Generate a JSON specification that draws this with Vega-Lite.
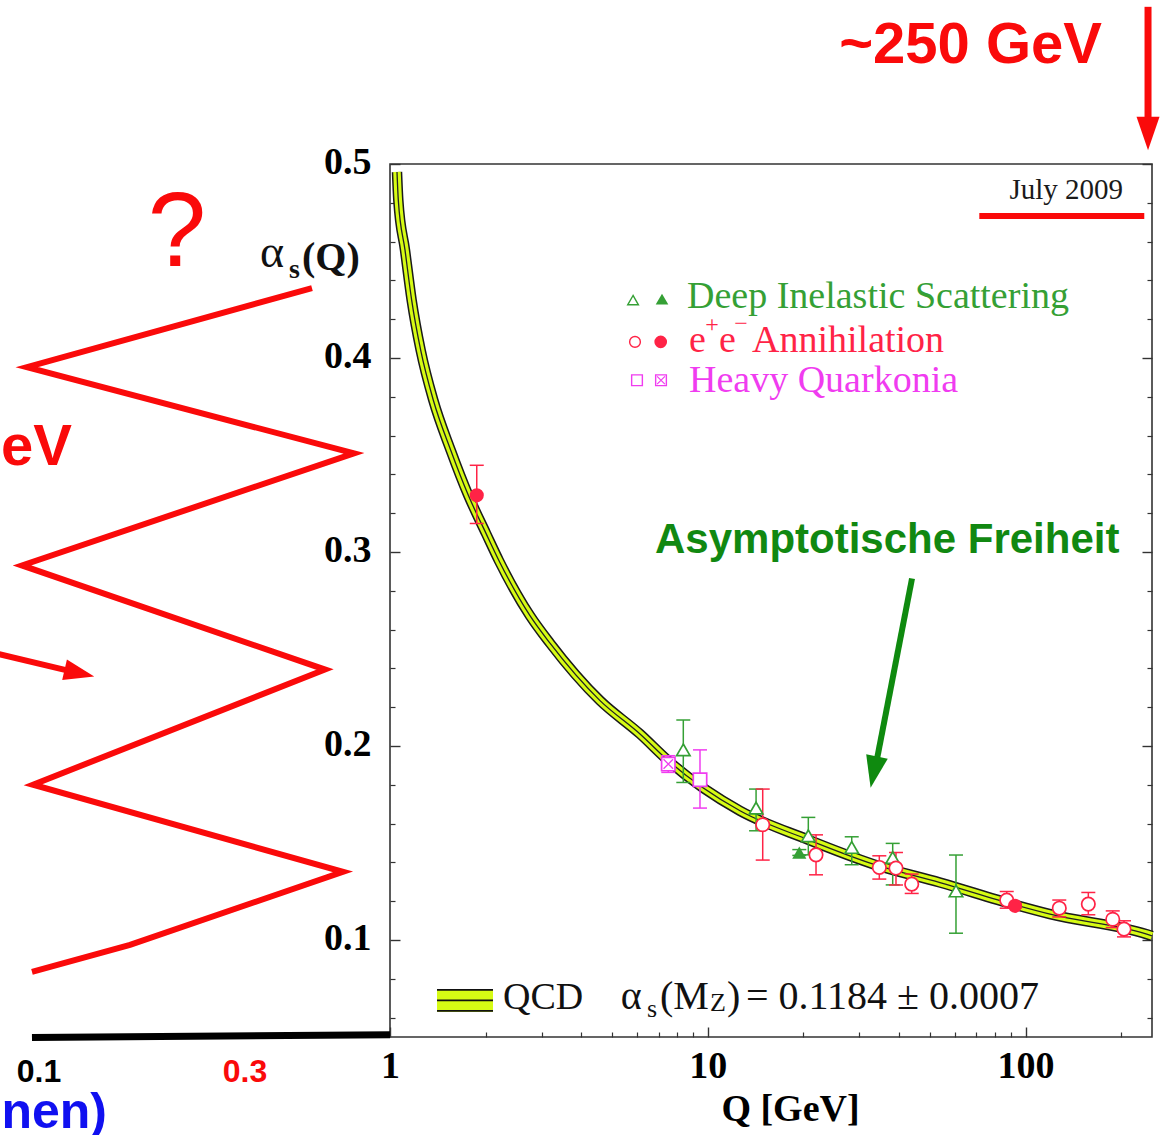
{
  "$schema": "https://vega.github.io/schema/vega-lite/v6.json",
  "width": 762,
  "height": 873,
  "autosize": {"type": "none"},
  "padding": {"left": 390, "top": 164, "right": 11, "bottom": 98},
  "background": "white",
  "config": {
    "view": {"stroke": "#333", "strokeWidth": 1.6},
    "axis": {"grid": false, "domain": false, "labelColor": "#000", "tickColor": "#333", "tickWidth": 1.4, "labelFlush": false, "labelOverlap": false}
  },
  "datasets": {
    "curve": [
      {"q": 1.052, "a": 0.4959}, {"q": 1.062, "a": 0.4814}, {"q": 1.115, "a": 0.4556}, {"q": 1.170, "a": 0.4298},
      {"q": 1.249, "a": 0.4040}, {"q": 1.369, "a": 0.3782}, {"q": 1.553, "a": 0.3524}, {"q": 1.764, "a": 0.3292},
      {"q": 2.005, "a": 0.3096}, {"q": 2.203, "a": 0.2955}, {"q": 2.757, "a": 0.2672}, {"q": 3.188, "a": 0.2530},
      {"q": 4.580, "a": 0.2234}, {"q": 6.120, "a": 0.2062}, {"q": 7.512, "a": 0.1924}, {"q": 12.63, "a": 0.1666},
      {"q": 20.48, "a": 0.1520}, {"q": 33.19, "a": 0.1391}, {"q": 53.80, "a": 0.1296}, {"q": 92.65, "a": 0.1181},
      {"q": 119.4, "a": 0.1133}, {"q": 240.6, "a": 0.1030}, {"q": 250, "a": 0.1021}
    ],
    "pts": [
      {"q": 1.875, "a": 0.3292, "lo": 0.3147, "hi": 0.3447, "set": "ee", "style": "filled"},
      {"q": 7.512, "a": 0.1907, "lo": 0.1864, "hi": 0.1950, "set": "HQ", "style": "crossed"},
      {"q": 8.375, "a": 0.1980, "lo": 0.1812, "hi": 0.2134, "set": "DIS", "style": "open"},
      {"q": 9.452, "a": 0.1826, "lo": 0.1680, "hi": 0.1980, "set": "HQ", "style": "open"},
      {"q": 14.19, "a": 0.1680, "lo": 0.1563, "hi": 0.1778, "set": "DIS", "style": "open"},
      {"q": 14.89, "a": 0.1594, "lo": 0.1412, "hi": 0.1778, "set": "ee", "style": "open"},
      {"q": 19.41, "a": 0.1451, "lo": 0.1436, "hi": 0.1466, "set": "DIS", "style": "filled"},
      {"q": 20.72, "a": 0.1537, "lo": 0.1439, "hi": 0.1632, "set": "DIS", "style": "open"},
      {"q": 21.91, "a": 0.1439, "lo": 0.1336, "hi": 0.1542, "set": "ee", "style": "open"},
      {"q": 28.38, "a": 0.1477, "lo": 0.1388, "hi": 0.1532, "set": "DIS", "style": "open"},
      {"q": 34.66, "a": 0.1374, "lo": 0.1314, "hi": 0.1434, "set": "ee", "style": "open"},
      {"q": 38.19, "a": 0.1425, "lo": 0.1284, "hi": 0.1498, "set": "DIS", "style": "open"},
      {"q": 39.11, "a": 0.1371, "lo": 0.1284, "hi": 0.1451, "set": "ee", "style": "open"},
      {"q": 43.83, "a": 0.1288, "lo": 0.1240, "hi": 0.1340, "set": "ee", "style": "open"},
      {"q": 60.41, "a": 0.1253, "lo": 0.1035, "hi": 0.1438, "set": "DIS", "style": "open"},
      {"q": 87.25, "a": 0.1206, "lo": 0.1164, "hi": 0.1250, "set": "ee", "style": "open"},
      {"q": 92.65, "a": 0.1176, "lo": 0.1166, "hi": 0.1186, "set": "ee", "style": "filled"},
      {"q": 127.7, "a": 0.1164, "lo": 0.1119, "hi": 0.1206, "set": "ee", "style": "open"},
      {"q": 157.6, "a": 0.1185, "lo": 0.1130, "hi": 0.1245, "set": "ee", "style": "open"},
      {"q": 188.1, "a": 0.1107, "lo": 0.1064, "hi": 0.1150, "set": "ee", "style": "open"},
      {"q": 204.1, "a": 0.1056, "lo": 0.1016, "hi": 0.1099, "set": "ee", "style": "open"}
    ],
    "legsym": [
      {"q": 5.8195, "a": 0.42982, "set": "DIS", "style": "open"},
      {"q": 7.1777, "a": 0.43034, "set": "DIS", "style": "filled"},
      {"q": 5.902, "a": 0.4083, "set": "ee", "style": "open"},
      {"q": 7.1103, "a": 0.4083, "set": "ee", "style": "filled"},
      {"q": 5.9883, "a": 0.38853, "set": "HQ", "style": "open"},
      {"q": 7.1258, "a": 0.38853, "set": "HQ", "style": "crossed"}
    ],
    "legtxt": [
      {"q": 8.6021, "a": 0.42569, "set": "DIS", "label": "Deep Inelastic Scattering"},
      {"q": 8.7276, "a": 0.40298, "set": "ee", "label": "e"},
      {"q": 10.848, "a": 0.40298, "set": "ee", "label": "e"},
      {"q": 13.78, "a": 0.40298, "set": "ee", "label": "Annihilation"},
      {"q": 8.7276, "a": 0.38234, "set": "HQ", "label": "Heavy Quarkonia"}
    ],
    "zig": [
      {"i": 1, "q": 0.5682, "a": 0.43601},
      {"i": 2, "q": 0.07206, "a": 0.39524},
      {"i": 3, "q": 0.7705, "a": 0.35086},
      {"i": 4, "q": 0.06948, "a": 0.29307},
      {"i": 5, "q": 0.6244, "a": 0.2394},
      {"i": 6, "q": 0.07527, "a": 0.18005},
      {"i": 7, "q": 0.7113, "a": 0.13515},
      {"i": 8, "q": 0.1520, "a": 0.09748},
      {"i": 9, "q": 0.0747, "a": 0.08354}
    ]
  },
  "encoding": {
    "x": {"field": "q", "type": "quantitative", "scale": {"type": "log", "domain": [1, 250], "nice": false}, "axis": null},
    "y": {"field": "a", "type": "quantitative", "scale": {"domain": [0.05, 0.5], "nice": false, "zero": false}, "axis": null}
  },
  "layer": [
    {
      "data": {"name": "curve"},
      "mark": {"type": "line", "color": "#1a1a1a", "strokeWidth": 10.5, "interpolate": "monotone"},
      "encoding": {
        "x": {"field": "q", "type": "quantitative", "scale": {"type": "log", "domain": [1, 250], "nice": false},
          "axis": {"orient": "bottom", "values": [1, 10, 100], "format": "d", "ticks": false, "tickSize": 0, "domain": false, "grid": false,
            "labelFont": "Liberation Serif", "labelFontWeight": "bold", "labelFontSize": 38, "labelColor": "#000", "labelPadding": 40,
            "labelBaseline": "alphabetic", "labelAlign": "center", "labelFlush": false, "labelOverlap": false,
            "title": "Q [GeV]", "titleFont": "Liberation Serif", "titleFontWeight": "bold", "titleFontSize": 38, "titleColor": "#000",
            "titleX": 400, "titleY": 83, "titleBaseline": "alphabetic", "titleAlign": "center"}},
        "y": {"field": "a", "type": "quantitative", "scale": {"domain": [0.05, 0.5], "nice": false, "zero": false},
          "axis": {"orient": "left", "values": [0.1, 0.2, 0.3, 0.4, 0.5], "format": ".1f", "ticks": false, "tickSize": 0, "domain": false, "grid": false,
            "labelFont": "Liberation Serif", "labelFontWeight": "bold", "labelFontSize": 38, "labelColor": "#000", "labelPadding": 19,
            "labelBaseline": "alphabetic", "labelOffset": 9, "labelAlign": "right", "labelFlush": false, "labelOverlap": false, "title": null}}
      }
    },
    {
      "data": {"name": "curve"},
      "mark": {"type": "line", "color": "#d6fb14", "strokeWidth": 7.5, "interpolate": "monotone"},
      "encoding": {
        "x": {"field": "q", "type": "quantitative", "scale": {"type": "log", "domain": [1, 250], "nice": false},
          "axis": {"orient": "bottom", "values": [1, 10, 100], "labels": false, "domain": false, "grid": false, "tickSize": -10, "tickWidth": 1.4, "tickColor": "#333", "title": null}},
        "y": {"field": "a", "type": "quantitative", "scale": {"domain": [0.05, 0.5], "nice": false, "zero": false},
          "axis": {"orient": "left", "values": [0.1, 0.2, 0.3, 0.4, 0.5], "labels": false, "domain": false, "grid": false, "tickSize": -10, "tickWidth": 1.4, "tickColor": "#333", "title": null}}
      }
    },
    {
      "data": {"name": "curve"},
      "mark": {"type": "line", "color": "#222", "strokeWidth": 1.3, "interpolate": "monotone"},
      "encoding": {
        "x": {"field": "q", "type": "quantitative", "scale": {"type": "log", "domain": [1, 250], "nice": false},
          "axis": {"orient": "bottom", "values": [2, 3, 4, 5, 6, 7, 8, 9, 20, 30, 40, 50, 60, 70, 80, 90, 200], "labels": false, "domain": false, "grid": false, "tickSize": -5, "tickWidth": 1.2, "tickColor": "#333", "title": null}},
        "y": {"field": "a", "type": "quantitative", "scale": {"domain": [0.05, 0.5], "nice": false, "zero": false},
          "axis": {"orient": "left", "values": [0.06, 0.08, 0.12, 0.14, 0.16, 0.18, 0.22, 0.24, 0.26, 0.28, 0.32, 0.34, 0.36, 0.38, 0.42, 0.44, 0.46, 0.48], "labels": false, "domain": false, "grid": false, "tickSize": -5, "tickWidth": 1.2, "tickColor": "#333", "title": null}}
      }
    },
    {
      "data": {"name": "pts"},
      "mark": {"type": "rule", "strokeWidth": 1.5},
      "encoding": {
        "y": {"field": "lo", "type": "quantitative", "scale": {"domain": [0.05, 0.5], "nice": false, "zero": false},
          "axis": {"orient": "right", "values": [0.1, 0.2, 0.3, 0.4, 0.5], "labels": false, "domain": false, "grid": false, "tickSize": -10, "tickWidth": 1.4, "tickColor": "#333", "title": null}},
        "y2": {"field": "hi"},
        "color": {"field": "set", "type": "nominal", "scale": {"domain": ["DIS", "ee", "HQ"], "range": ["#35a035", "#ff2346", "#f03cf0"]}, "legend": null}
      }
    },
    {
      "data": {"name": "pts"},
      "mark": {"type": "tick", "orient": "horizontal", "size": 14, "thickness": 1.5, "opacity": 1},
      "encoding": {
        "y": {"field": "lo", "type": "quantitative", "scale": {"domain": [0.05, 0.5], "nice": false, "zero": false},
          "axis": {"orient": "right", "values": [0.06, 0.08, 0.12, 0.14, 0.16, 0.18, 0.22, 0.24, 0.26, 0.28, 0.32, 0.34, 0.36, 0.38, 0.42, 0.44, 0.46, 0.48], "labels": false, "domain": false, "grid": false, "tickSize": -5, "tickWidth": 1.2, "tickColor": "#333", "title": null}},
        "color": {"field": "set", "type": "nominal", "legend": null}
      }
    },
    {
      "data": {"name": "pts"},
      "mark": {"type": "tick", "orient": "horizontal", "size": 14, "thickness": 1.5, "opacity": 1},
      "encoding": {
        "y": {"field": "hi", "type": "quantitative", "scale": {"domain": [0.05, 0.5], "nice": false, "zero": false}, "axis": null},
        "color": {"field": "set", "type": "nominal", "legend": null}
      }
    },
    {
      "data": {"name": "pts"},
      "transform": [{"filter": "datum.style != 'filled'"}],
      "mark": {"type": "point", "filled": false, "fill": "white", "strokeWidth": 1.7, "size": 180, "opacity": 1},
      "encoding": {
        "color": {"field": "set", "type": "nominal", "legend": null},
        "shape": {"field": "set", "type": "nominal", "scale": {"domain": ["DIS", "ee", "HQ"], "range": ["triangle-up", "circle", "square"]}, "legend": null}
      }
    },
    {
      "data": {"name": "pts"},
      "transform": [{"filter": "datum.style == 'filled'"}],
      "mark": {"type": "point", "filled": true, "size": 200, "opacity": 1},
      "encoding": {
        "color": {"field": "set", "type": "nominal", "legend": null},
        "shape": {"field": "set", "type": "nominal", "legend": null}
      }
    },
    {
      "data": {"name": "pts"},
      "transform": [{"filter": "datum.style == 'crossed'"}],
      "mark": {"type": "point", "filled": false, "shape": "M-1,-1L1,1M-1,1L1,-1", "size": 90, "strokeWidth": 1.3, "opacity": 1},
      "encoding": {"color": {"field": "set", "type": "nominal", "legend": null}}
    },
    {
      "data": {"name": "legsym"},
      "transform": [{"filter": "datum.style != 'filled'"}],
      "mark": {"type": "point", "filled": false, "fill": "white", "strokeWidth": 1.4, "size": 115, "opacity": 1},
      "encoding": {
        "color": {"field": "set", "type": "nominal", "legend": null},
        "shape": {"field": "set", "type": "nominal", "legend": null}
      }
    },
    {
      "data": {"name": "legsym"},
      "transform": [{"filter": "datum.style == 'filled'"}],
      "mark": {"type": "point", "filled": true, "size": 160, "opacity": 1},
      "encoding": {
        "color": {"field": "set", "type": "nominal", "legend": null},
        "shape": {"field": "set", "type": "nominal", "legend": null}
      }
    },
    {
      "data": {"name": "legsym"},
      "transform": [{"filter": "datum.style == 'crossed'"}],
      "mark": {"type": "point", "filled": false, "shape": "M-1,-1L1,1M-1,1L1,-1", "size": 60, "strokeWidth": 1.2, "opacity": 1},
      "encoding": {"color": {"field": "set", "type": "nominal", "legend": null}}
    },
    {
      "data": {"name": "legtxt"},
      "mark": {"type": "text", "font": "Liberation Serif", "fontSize": 38, "align": "left", "baseline": "alphabetic"},
      "encoding": {
        "text": {"field": "label"},
        "color": {"field": "set", "type": "nominal", "legend": null}
      }
    },
    {
      "data": {"values": [
        {"q": 10.31, "a": 0.4133, "set": "ee", "label": "+"},
        {"q": 12.727, "a": 0.41382, "set": "ee", "label": "−"}
      ]},
      "mark": {"type": "text", "font": "Liberation Serif", "fontSize": 24, "align": "center", "baseline": "alphabetic"},
      "encoding": {
        "text": {"field": "label"},
        "color": {"field": "set", "type": "nominal", "legend": null}
      }
    },
    {
      "data": {"values": [{"q": 1.4059, "q2": 2.1093, "a": 0.07478, "a2": 0.06291}]},
      "mark": {"type": "rect", "color": "#d6fb14"},
      "encoding": {"x2": {"field": "q2"}, "y2": {"field": "a2"}}
    },
    {
      "data": {"values": [
        {"q": 1.4059, "q2": 2.1093, "a": 0.07426},
        {"q": 1.4059, "q2": 2.1093, "a": 0.06884},
        {"q": 1.4059, "q2": 2.1093, "a": 0.06342}
      ]},
      "mark": {"type": "rule", "color": "#111", "strokeWidth": 1.8},
      "encoding": {"x2": {"field": "q2"}}
    },
    {
      "data": {"values": [{"q": 2.268, "a": 0.06445, "label": "QCD"}]},
      "mark": {"type": "text", "font": "Liberation Serif", "fontSize": 38, "align": "left", "baseline": "alphabetic", "color": "#111"},
      "encoding": {"text": {"field": "label"}}
    },
    {
      "data": {"values": [
        {"q": 5.32, "a": 0.06445, "label": "α"},
        {"q": 7.0737, "a": 0.06445, "label": "(M"},
        {"q": 11.494, "a": 0.06445, "label": ")"},
        {"q": 13.194, "a": 0.06445, "label": "= 0.1184 ± 0.0007"}
      ]},
      "mark": {"type": "text", "font": "Liberation Serif", "fontSize": 40, "align": "left", "baseline": "alphabetic", "color": "#111"},
      "encoding": {"text": {"field": "label"}}
    },
    {
      "data": {"values": [
        {"q": 6.4394, "a": 0.06033, "label": "s"},
        {"q": 10.163, "a": 0.06342, "label": "Z"}
      ]},
      "mark": {"type": "text", "font": "Liberation Serif", "fontSize": 26, "align": "left", "baseline": "alphabetic", "color": "#111"},
      "encoding": {"text": {"field": "label"}}
    },
    {
      "data": {"values": [{"q": 0.38985, "a": 0.44685, "label": "α"}]},
      "mark": {"type": "text", "font": "Liberation Serif", "fontSize": 46, "align": "left", "baseline": "alphabetic", "color": "#111"},
      "encoding": {"text": {"field": "label"}}
    },
    {
      "data": {"values": [{"q": 0.48116, "a": 0.44117, "label": "s"}]},
      "mark": {"type": "text", "font": "Liberation Serif", "fontSize": 28, "fontWeight": "bold", "align": "left", "baseline": "alphabetic", "color": "#111"},
      "encoding": {"text": {"field": "label"}}
    },
    {
      "data": {"values": [{"q": 0.52851, "a": 0.4453, "label": "(Q)"}]},
      "mark": {"type": "text", "font": "Liberation Serif", "fontSize": 40, "fontWeight": "bold", "align": "left", "baseline": "alphabetic", "color": "#111"},
      "encoding": {"text": {"field": "label"}}
    },
    {
      "data": {"values": [{"q": 202.6, "a": 0.4819, "label": "July 2009"}]},
      "mark": {"type": "text", "font": "Liberation Serif", "fontSize": 29, "align": "right", "baseline": "alphabetic", "color": "#1a1a1a"},
      "encoding": {"text": {"field": "label"}}
    },
    {
      "data": {"values": [{"q": 71.53, "q2": 236.4, "a": 0.47317}]},
      "mark": {"type": "rule", "color": "#fa0a0a", "strokeWidth": 6},
      "encoding": {"x2": {"field": "q2"}}
    },
    {
      "data": {"values": [{"q": 174.0, "a": 0.55212, "label": "~250 GeV"}]},
      "mark": {"type": "text", "font": "Liberation Sans", "fontSize": 58, "fontWeight": "bold", "align": "right", "baseline": "alphabetic", "color": "#fa0a0a"},
      "encoding": {"text": {"field": "label"}}
    },
    {
      "data": {"values": [{"q": 242.9, "a": 0.58102, "a2": 0.52271}]},
      "mark": {"type": "rule", "color": "#fa0a0a", "strokeWidth": 7},
      "encoding": {"y2": {"field": "a2"}}
    },
    {
      "data": {"values": [{"q": 242.9, "a": 0.51574}]},
      "mark": {"type": "point", "shape": "M-1,-1.45L1,-1.45L0,1.45Z", "filled": true, "size": 529, "color": "#fa0a0a", "opacity": 1},
      "encoding": {}
    },
    {
      "data": {"values": [{"q": 43.93, "a": 0.28636, "q2": 33.96, "a2": 0.19192}]},
      "mark": {"type": "rule", "color": "#0f8a0f", "strokeWidth": 6},
      "encoding": {"x2": {"field": "q2"}, "y2": {"field": "a2"}}
    },
    {
      "data": {"values": [{"q": 33.30, "a": 0.1865}]},
      "mark": {"type": "point", "shape": "M-1,-1.45L1,-1.45L0,1.45Z", "filled": true, "size": 484, "angle": 11.5, "color": "#0f8a0f", "opacity": 1},
      "encoding": {}
    },
    {
      "data": {"values": [{"q": 6.823, "a": 0.29926, "label": "Asymptotische Freiheit"}]},
      "mark": {"type": "text", "font": "Liberation Sans", "fontSize": 42, "fontWeight": "bold", "align": "left", "baseline": "alphabetic", "color": "#118811"},
      "encoding": {"text": {"field": "label"}}
    },
    {
      "data": {"name": "zig"},
      "mark": {"type": "line", "color": "#fa0a0a", "strokeWidth": 6},
      "encoding": {"order": {"field": "i", "type": "quantitative"}}
    },
    {
      "data": {"values": [{"q": 0.05714, "a": 0.24786, "q2": 0.09559, "a2": 0.23914}]},
      "mark": {"type": "rule", "color": "#fa0a0a", "strokeWidth": 6},
      "encoding": {"x2": {"field": "q2"}, "y2": {"field": "a2"}}
    },
    {
      "data": {"values": [{"q": 0.10533, "a": 0.23759}]},
      "mark": {"type": "point", "shape": "M-1,-1.45L1,-1.45L0,1.45Z", "filled": true, "size": 441, "angle": -77, "color": "#fa0a0a", "opacity": 1},
      "encoding": {}
    },
    {
      "data": {"values": [{"q": 0.0747, "a": 0.0498, "q2": 1, "a2": 0.05114}]},
      "mark": {"type": "rule", "color": "#000", "strokeWidth": 7},
      "encoding": {"x2": {"field": "q2"}, "y2": {"field": "a2"}}
    },
    {
      "data": {"values": [{"q": 0.0786, "a": 0.02679, "label": "0.1"}]},
      "mark": {"type": "text", "font": "Liberation Sans", "fontSize": 32, "fontWeight": "bold", "align": "center", "baseline": "alphabetic", "color": "#000"},
      "encoding": {"text": {"field": "label"}}
    },
    {
      "data": {"values": [{"q": 0.3497, "a": 0.02679, "label": "0.3"}]},
      "mark": {"type": "text", "font": "Liberation Sans", "fontSize": 32, "fontWeight": "bold", "align": "center", "baseline": "alphabetic", "color": "#fa0a0a"},
      "encoding": {"text": {"field": "label"}}
    },
    {
      "data": {"values": [{"q": 0.09983, "a": 0.34467, "label": "~1 GeV"}]},
      "mark": {"type": "text", "font": "Liberation Sans", "fontSize": 58, "fontWeight": "bold", "align": "right", "baseline": "alphabetic", "color": "#fa0a0a"},
      "encoding": {"text": {"field": "label"}}
    },
    {
      "data": {"values": [{"q": 0.21368, "a": 0.44736, "label": "?"}]},
      "mark": {"type": "text", "font": "Liberation Sans", "fontSize": 105, "align": "center", "baseline": "alphabetic", "color": "#fa0a0a"},
      "encoding": {"text": {"field": "label"}}
    },
    {
      "data": {"values": [{"q": 0.12866, "a": 0.00305, "label": "(Hadronen)"}]},
      "mark": {"type": "text", "font": "Liberation Sans", "fontSize": 50, "fontWeight": "bold", "align": "right", "baseline": "alphabetic", "color": "#1010f0"},
      "encoding": {"text": {"field": "label"}}
    }
  ],
  "resolve": {"axis": {"x": "independent", "y": "independent"}}
}
